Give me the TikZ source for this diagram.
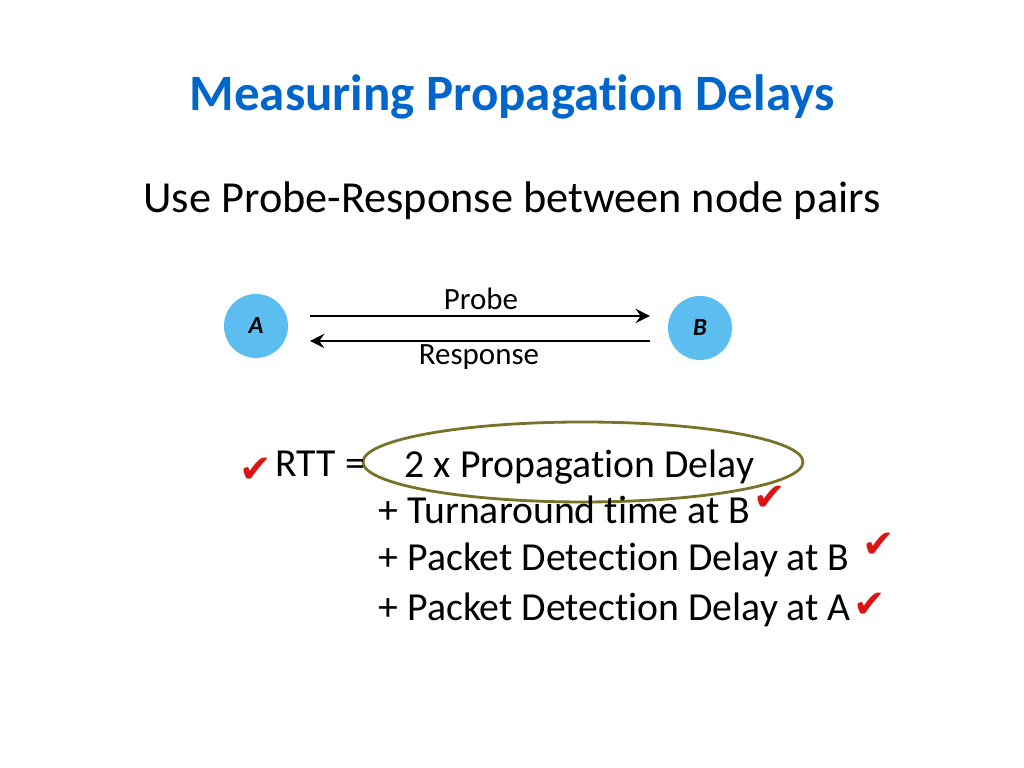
\documentclass[tikz,border=0pt]{standalone}
\usepackage{fontspec}
\setmainfont[Ligatures=NoCommon]{Carlito}
\newfontfamily\symfont{DejaVu Sans}
\usetikzlibrary{shapes.geometric,positioning}
\definecolor{titleblue}{RGB}{0,102,204}
\definecolor{nodeblue}{RGB}{92,190,240}
\definecolor{olive}{RGB}{120,115,40}
\definecolor{tickred}{RGB}{220,20,20}
\begin{document}
\begin{tikzpicture}[x=0.01cm,y=-0.01cm]
  \tikzstyle{every node}+=[inner sep=0pt]
  \tikzstyle{station}=[circle,fill=nodeblue,minimum size=0.64cm,font=\fontsize{7}{8}\selectfont\bfseries\itshape]
  \tikzstyle{tick}=[text=tickred,font=\symfont\fontsize{11}{11}\selectfont]
  \tikzstyle{line}=[anchor=base west,font=\fontsize{11.3}{14}\selectfont]
  \useasboundingbox (0,0) rectangle (1024,768);
  \node[text=titleblue,font=\fontsize{14.5}{16}\selectfont\bfseries] (title) at (512,97) {Measuring Propagation Delays};
  \node[font=\fontsize{12.6}{15}\selectfont] (sub) at (512,201) {Use Probe-Response between node pairs};
  \node[station] (A) at (256,326) {A};
  \node[station] (B) at (700,328) {B};
  \coordinate (p1) at (310,316);
  \coordinate (p2) at (650,316);
  \coordinate (r1) at (650,341);
  \coordinate (r2) at (310,341);
  \draw[thick,-stealth] (p1) -- (p2);
  \draw[thick,-stealth] (r1) -- (r2);
  \node[font=\fontsize{8.8}{10}\selectfont] (probe) at (481,299) {Probe};
  \node[font=\fontsize{8.8}{10}\selectfont] (resp) at (479,357) {Response};
  \draw[olive,thick] (583,462) ellipse (220 and 40);
  \node[line] (rtt) at (275,477) {RTT =};
  \node[line] (l1) at (404,478) {2 x Propagation Delay};
  \node[line] (l2) at (378,524) {+ Turnaround time at B};
  \node[line] (l3) at (378,571) {+ Packet Detection Delay at B};
  \node[line] (l4) at (378,621) {+ Packet Detection Delay at A};
  \node[tick] (c0) at (256,470) {✔};
  \node[tick,right=2 of l2.east,yshift=0.12cm] (c1) {✔};
  \node[tick,right=12 of l3.east,yshift=0.15cm] (c2) {✔};
  \node[tick,right=1 of l4.east,yshift=0.05cm] (c3) {✔};
\end{tikzpicture}
\end{document}
